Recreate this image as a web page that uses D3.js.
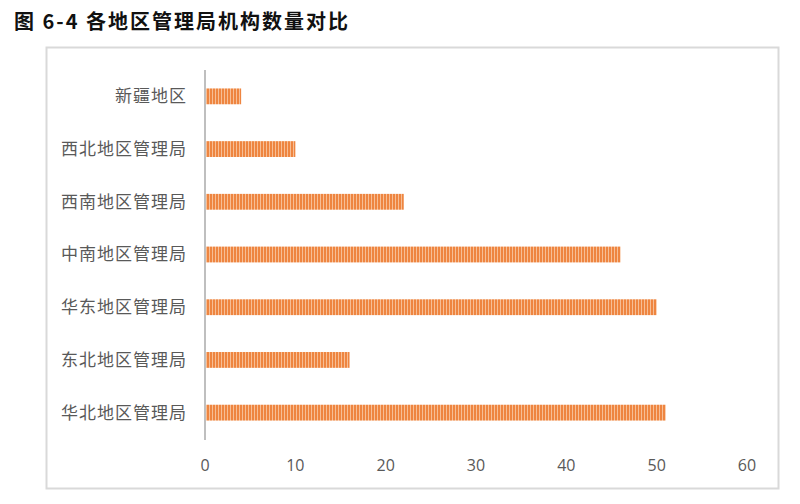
<!DOCTYPE html>
<html>
<head>
<meta charset="utf-8">
<script src="https://cdn.jsdelivr.net/npm/d3@7"></script>
<style>
  body { margin: 0; background: #fff; }
  svg { display: block; }
</style>
</head>
<body>
<svg id="chart"></svg>
<script>
// regions, top to bottom as drawn
var regions = ["新疆地区", "西北地区管理局", "西南地区管理局", "中南地区管理局", "华东地区管理局", "东北地区管理局", "华北地区管理局"];
var counts = [4, 10, 22, 46, 50, 16, 51];
var xTicks = [0, 10, 20, 30, 40, 50, 60];
var title = "图 6-4  各地区管理局机构数量对比";

var width = 800, height = 504;
var svg = d3.select("#chart").attr("width", width).attr("height", height);

// striped fill like the original excel bars
var defs = svg.append("defs");
var pat = defs.append("pattern")
    .attr("id", "stripes")
    .attr("patternUnits", "userSpaceOnUse")
    .attr("width", 3).attr("height", 10);
pat.append("rect").attr("width", 3).attr("height", 10).attr("fill", "#EE8540");
pat.append("rect").attr("x", 2).attr("width", 1).attr("height", 10).attr("fill", "#F7BE95");

svg.append("text")
    .attr("x", 14).attr("y", 29)
    .attr("font-family", "'Noto Sans CJK SC', sans-serif")
    .attr("font-weight", 700)
    .attr("font-size", 20)
    .attr("letter-spacing", 2)
    .attr("fill", "#111")
    .text(title);

// chart frame
svg.append("rect")
    .attr("x", 46.5).attr("y", 47.5)
    .attr("width", 732).attr("height", 441)
    .attr("fill", "#fff")
    .attr("stroke", "#d9d9d9")
    .attr("stroke-width", 2);

var x = d3.scaleLinear().domain([0, 60]).range([205, 747]);
var y = d3.scaleBand().domain(regions).range([70, 439]).paddingInner(0.7).paddingOuter(0.35);

var data = regions.map(function(r, i) { return {y: r, x: counts[i]}; });

svg.selectAll(".bar")
    .data(data)
    .enter().append("rect")
    .attr("class", "bar")
    .attr("x", x(0) + 1)
    .attr("y", function(d) { return y(d.y); })
    .attr("width", function(d) { return x(d.x) - x(0) - 1; })
    .attr("height", y.bandwidth())
    .attr("fill", "url(#stripes)");

// y axis line + labels
svg.append("line")
    .attr("x1", x(0)).attr("x2", x(0))
    .attr("y1", 70).attr("y2", 440)
    .attr("stroke", "#bfbfbf").attr("stroke-width", 2);

svg.selectAll(".ylab")
    .data(regions)
    .enter().append("text")
    .attr("class", "ylab")
    .attr("x", 187)
    .attr("y", function(d) { return y(d) + y.bandwidth() / 2; })
    .attr("dy", "0.35em")
    .attr("text-anchor", "end")
    .attr("font-family", "'Noto Sans CJK SC', sans-serif")
    .attr("font-size", 17)
    .attr("letter-spacing", 1)
    .attr("fill", "#595959")
    .text(function(d) { return d; });

svg.selectAll(".xlab")
    .data(xTicks)
    .enter().append("text")
    .attr("class", "xlab")
    .attr("x", function(d) { return x(d); })
    .attr("y", 471)
    .attr("text-anchor", "middle")
    .attr("font-family", "'Open Sans', sans-serif")
    .attr("font-size", 16)
    .attr("fill", "#595959")
    .text(function(d) { return d; });
</script>
</body>
</html>
